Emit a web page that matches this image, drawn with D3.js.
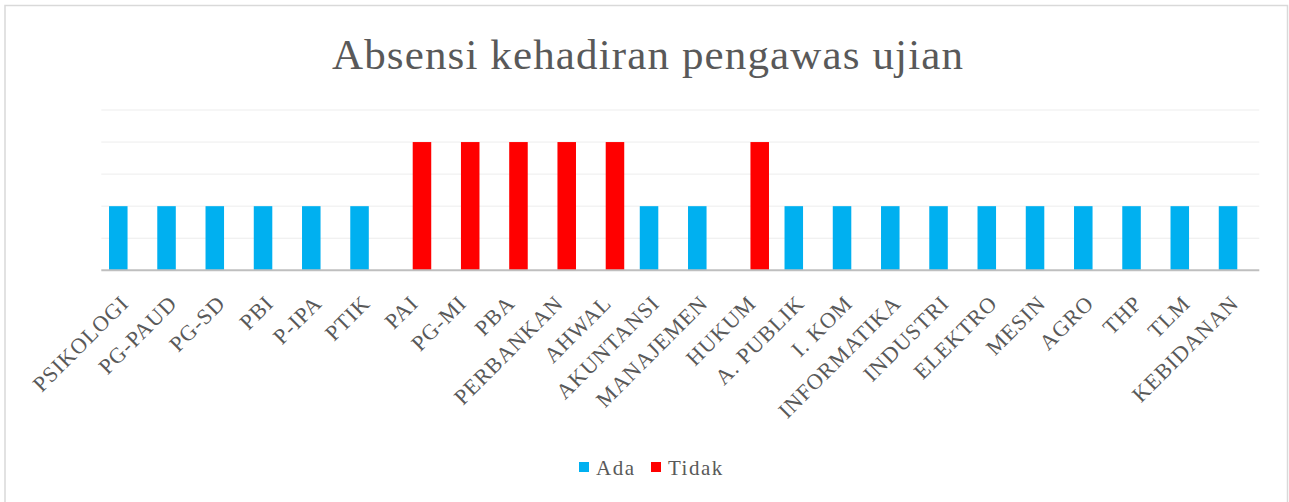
<!DOCTYPE html>
<html><head><meta charset="utf-8">
<script src="https://cdn.jsdelivr.net/npm/d3@7"></script>
<style>html,body{margin:0;padding:0;background:#fff;} svg{display:block;}</style>
</head><body><div id="chart"></div>
<script>
const categories = ["PSIKOLOGI","PG-PAUD","PG-SD","PBI","P-IPA","PTIK","PAI","PG-MI","PBA","PERBANKAN","AHWAL","AKUNTANSI","MANAJEMEN","HUKUM","A. PUBLIK","I. KOM","INFORMATIKA","INDUSTRI","ELEKTRO","MESIN","AGRO","THP","TLM","KEBIDANAN"];
const adaValues   = [2,2,2,2,2,2,0,0,0,0,0,2,2,0,2,2,2,2,2,2,2,2,2,2];
const tidakValues = [0,0,0,0,0,0,4,4,4,4,4,0,0,4,0,0,0,0,0,0,0,0,0,0];
const seriesNames = ["Ada","Tidak"];
const seriesColors = ["#00B0F0","#FF0000"];
const yTicks = [0,1,2,3,4,5];
const titleText = "Absensi kehadiran pengawas ujian";

const W = 1289, H = 502;
const FONT = "'Liberation Serif','Times New Roman',serif";
const svg = d3.select("#chart").append("svg").attr("width", W).attr("height", H);
svg.append("rect").attr("width", W).attr("height", H).attr("fill", "#fff");
svg.append("rect").attr("x", 5).attr("y", 5.5).attr("width", 1282.5).attr("height", 520)
  .attr("fill", "none").attr("stroke", "#D9D9D9").attr("stroke-width", 1.5);

const plot = {left: 101.3, right: 1259.3, top: 110, bottom: 270.3};
const x = d3.scaleBand().domain(categories).range([plot.left, plot.right]).padding(0);
const y = d3.scaleLinear().domain([0, 5]).range([plot.bottom, plot.top]);
const bw = x.bandwidth();
const xs = d3.scalePoint().domain(seriesNames).range([bw * 0.16, bw * 0.454]);
const barW = bw * 0.384;
const color = d3.scaleOrdinal().domain(seriesNames).range(seriesColors);

// title
svg.append("text").attr("x", 647.5).attr("y", 69).attr("text-anchor", "middle")
  .attr("font-family", FONT).attr("font-size", 43)
  .attr("fill", "#595959").attr("textLength", 631).attr("lengthAdjust", "spacing").text(titleText);

// gridlines
svg.append("g").selectAll("line").data(yTicks.filter(d => d > 0)).join("line")
  .attr("x1", plot.left).attr("x2", plot.right)
  .attr("y1", d => y(d)).attr("y2", d => y(d))
  .attr("stroke", "#EDEDED").attr("stroke-width", 1);

// bars
const series = [adaValues, tidakValues];
const barData = [];
categories.forEach((c, i) => seriesNames.forEach((s, j) => {
  if (series[j][i] > 0) barData.push({c, s, v: series[j][i]});
}));
svg.append("g").selectAll("rect").data(barData).join("rect")
  .attr("x", d => x(d.c) + xs(d.s))
  .attr("y", d => y(d.v))
  .attr("width", barW)
  .attr("height", d => y(0) - y(d.v))
  .attr("fill", d => color(d.s));

// axis line
svg.append("line").attr("x1", plot.left).attr("x2", plot.right)
  .attr("y1", y(0)).attr("y2", y(0)).attr("stroke", "#BFBFBF").attr("stroke-width", 2);

// x labels
const ls = 1;
svg.append("g").selectAll("text").data(categories).join("text")
  .attr("transform", d => `translate(${x(d) + bw / 2 + 4},${y(0) + 35}) rotate(-45)`)
  .attr("text-anchor", "end")
  .attr("dx", ls)
  .attr("font-family", FONT)
  .attr("font-size", 22).attr("letter-spacing", ls)
  .attr("fill", "#595959").text(d => d);

// legend
const legend = svg.append("g");
const legendPos = [{sx: 579, tx: 596}, {sx: 651, tx: 668}];
seriesNames.forEach((s, j) => {
  legend.append("rect").attr("x", legendPos[j].sx).attr("y", 462).attr("width", 10).attr("height", 10).attr("fill", color(s));
  legend.append("text").attr("x", legendPos[j].tx).attr("y", 475)
    .attr("font-family", FONT).attr("font-size", 21)
    .attr("letter-spacing", 1.5).attr("fill", "#595959").text(s);
});
</script></body></html>
